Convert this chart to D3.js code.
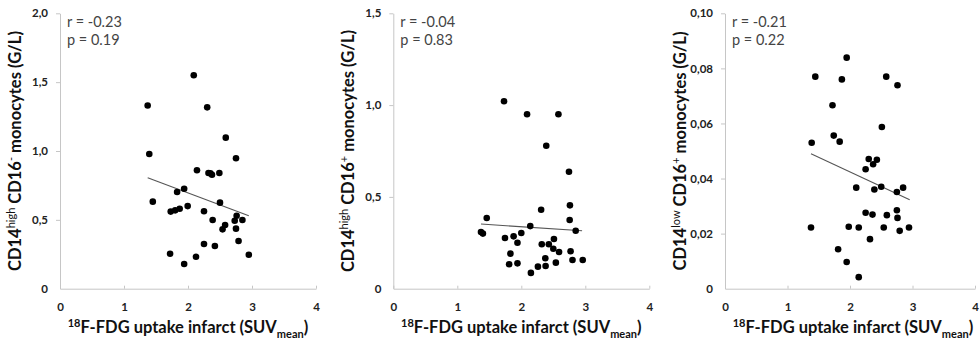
<!DOCTYPE html>
<html>
<head>
<meta charset="utf-8">
<script src="https://cdn.jsdelivr.net/npm/d3@7"></script>
<style>
  body { margin: 0; background: #fff; }
  svg { display: block; font-family: Lato, "Open Sans", sans-serif; }
</style>
</head>
<body>
<div id="chart"></div>
<script>
// panel A: CD14high CD16- monocytes
const suvA = [2.09, 1.37, 2.30, 2.59, 1.395, 2.75, 2.14, 2.32, 2.35, 2.375, 2.49, 1.94, 1.83, 1.45, 2.50, 1.995, 1.73,
  1.80, 1.87, 2.25, 2.76, 2.385, 2.73, 2.85, 2.58, 2.54, 2.75, 2.79, 2.25, 2.42, 1.72, 2.125, 2.95, 1.94];
const monoA = [1.55, 1.33, 1.317, 1.097, 0.978, 0.947, 0.86, 0.84, 0.838, 0.828, 0.84, 0.726, 0.702, 0.632, 0.625, 0.60, 0.56,
  0.569, 0.581, 0.562, 0.53, 0.499, 0.494, 0.499, 0.463, 0.431, 0.436, 0.346, 0.325, 0.31, 0.254, 0.232, 0.247, 0.179];
const fitA = [[1.37, 0.806], [2.95, 0.530]];

// panel B: CD14high CD16+ monocytes
const suvB = [1.73, 2.09, 2.58, 2.39, 2.745, 2.31, 2.76, 2.756, 1.46, 2.14, 2.85, 1.37, 1.40, 2.0, 1.745, 1.88, 1.94,
  2.32, 2.43, 2.51, 2.50, 2.59, 2.77, 1.83, 1.81, 1.94, 2.15, 2.26, 2.375, 2.38, 2.54, 2.80, 2.96];
const monoB = [1.021, 0.95, 0.95, 0.779, 0.637, 0.43, 0.454, 0.374, 0.385, 0.341, 0.316, 0.309, 0.30, 0.303, 0.276, 0.285, 0.25,
  0.242, 0.242, 0.271, 0.218, 0.20, 0.204, 0.191, 0.133, 0.138, 0.086, 0.12, 0.166, 0.124, 0.142, 0.156, 0.156];
const fitB = [[1.37, 0.352], [2.95, 0.316]];

// panel C: CD14low CD16+ monocytes
const suvC = [1.947, 1.445, 1.87, 2.58, 2.76, 1.72, 2.51, 1.74, 1.835, 1.387, 2.30, 2.43, 2.37, 2.25, 2.10, 2.39, 2.50,
  2.75, 2.85, 2.25, 2.36, 2.59, 2.75, 2.76, 1.376, 1.98, 2.14, 2.54, 2.795, 2.944, 2.32, 1.81, 1.947, 2.14];
const monoC = [0.0839, 0.077, 0.076, 0.077, 0.0739, 0.0666, 0.0587, 0.0556, 0.0534, 0.053, 0.0471, 0.0468, 0.0452, 0.0434, 0.0367, 0.036, 0.037,
  0.0351, 0.0367, 0.0276, 0.0269, 0.0267, 0.0285, 0.0257, 0.0222, 0.0225, 0.0222, 0.0222, 0.021, 0.0222, 0.018, 0.0143, 0.0097, 0.0042];
const fitC = [[1.376, 0.049], [2.955, 0.0323]];

const xTicks = [0, 1, 2, 3, 4];
const yTicksA = [0, 0.5, 1, 1.5, 2];
const yTicksB = [0, 0.5, 1, 1.5];
const yTicksC = [0, 0.02, 0.04, 0.06, 0.08, 0.1];
const statsA = ["r = -0.23", "p = 0.19"];
const statsB = ["r = -0.04", "p = 0.83"];
const statsC = ["r = -0.21", "p = 0.22"];

const width = 980, height = 346;
const plotTop = 13.3, plotBottom = 288.7;

const panels = [
  { left: 60, w: 256, xs: suvA, ys: monoA, fit: fitA, yTicks: yTicksA, fmt: v => v === 0 ? "0" : d3.format(".1f")(v).replace(".", ","),
    stats: statsA, sup: "high", sign: "-" },
  { left: 393.3, w: 256, xs: suvB, ys: monoB, fit: fitB, yTicks: yTicksB, fmt: v => v === 0 ? "0" : d3.format(".1f")(v).replace(".", ","),
    stats: statsB, sup: "high", sign: "+" },
  { left: 725, w: 250, xs: suvC, ys: monoC, fit: fitC, yTicks: yTicksC, fmt: v => v === 0 ? "0" : d3.format(".2f")(v).replace(".", ","),
    stats: statsC, sup: "low", sign: "+" }
];

const svg = d3.select('#chart').append('svg')
  .attr('width', width)
  .attr('height', height);

const axisColor = '#c6c6c6';

panels.forEach(p => {
  const x = d3.scaleLinear().domain([0, 4]).range([p.left, p.left + p.w]);
  const y = d3.scaleLinear().domain([0, d3.max(p.yTicks)]).range([plotBottom, plotTop]);
  const g = svg.append('g');

  // y axis
  const yAxis = g.append('g')
    .attr('transform', `translate(${p.left},0)`)
    .call(d3.axisLeft(y).tickValues(p.yTicks).tickSize(4).tickSizeOuter(0).tickPadding(8).tickFormat(p.fmt));
  yAxis.select('.domain').attr('stroke', axisColor);
  yAxis.selectAll('.tick line').attr('stroke', axisColor);
  yAxis.selectAll('.tick text')
    .attr('fill', '#222').attr('font-weight', 'bold').attr('font-size', 11.5)
    .attr('font-family', 'Lato, sans-serif');
  yAxis.selectAll('.tick').filter(d => d === 0).select('line').remove();

  // x axis
  const xAxis = g.append('g')
    .attr('transform', `translate(0,${plotBottom})`)
    .call(d3.axisBottom(x).tickValues(xTicks).tickSize(-3).tickSizeOuter(0).tickPadding(14).tickFormat(d3.format('d')));
  xAxis.select('.domain').attr('stroke', axisColor);
  xAxis.selectAll('.tick line').attr('stroke', axisColor);
  xAxis.selectAll('.tick text')
    .attr('fill', '#222').attr('font-weight', 'bold').attr('font-size', 11.5)
    .attr('font-family', 'Lato, sans-serif');

  // fit line
  g.append('line')
    .attr('x1', x(p.fit[0][0])).attr('y1', y(p.fit[0][1]))
    .attr('x2', x(p.fit[1][0])).attr('y2', y(p.fit[1][1]))
    .attr('stroke', '#555').attr('stroke-width', 1.1);

  // points
  g.append('g').selectAll('circle')
    .data(p.xs.map((v, i) => [v, p.ys[i]]))
    .enter().append('circle')
    .attr('cx', d => x(d[0]))
    .attr('cy', d => y(d[1]))
    .attr('r', 3.3)
    .attr('fill', '#000');

  // stats
  g.append('g').selectAll('text')
    .data(p.stats)
    .enter().append('text')
    .attr('x', p.left + 7)
    .attr('y', (d, i) => 27 + i * 18)
    .attr('font-size', 14.5)
    .attr('fill', '#444')
    .text(d => d);

  // y title
  const yt = g.append('text')
    .attr('transform', `translate(${p.left - 39},${(plotTop + plotBottom) / 2}) rotate(-90)`)
    .attr('text-anchor', 'middle')
    .attr('font-size', 16.5)
    .attr('font-weight', 'bold')
    .attr('fill', '#111');
  yt.append('tspan').text('CD14');
  yt.append('tspan').attr('dy', -6).attr('font-size', 11).attr('font-weight', 'normal').text(p.sup);
  yt.append('tspan').attr('dy', 6).text(' CD16');
  yt.append('tspan').attr('dy', -6).attr('font-size', 11).attr('font-weight', 'normal').text(p.sign);
  yt.append('tspan').attr('dy', 6).text(' monocytes (G/L)');

  // x title
  const xt = g.append('text')
    .attr('x', p.left + 128)
    .attr('y', 333)
    .attr('text-anchor', 'middle')
    .attr('font-size', 16.5)
    .attr('font-weight', 'bold')
    .attr('fill', '#111');
  xt.append('tspan').attr('dy', -6).attr('font-size', 11).text('18');
  xt.append('tspan').attr('dy', 6).text('F-FDG uptake infarct (SUV');
  xt.append('tspan').attr('dy', 5).attr('font-size', 11).text('mean');
  xt.append('tspan').attr('dy', -5).text(')');
});
</script>
</body>
</html>
